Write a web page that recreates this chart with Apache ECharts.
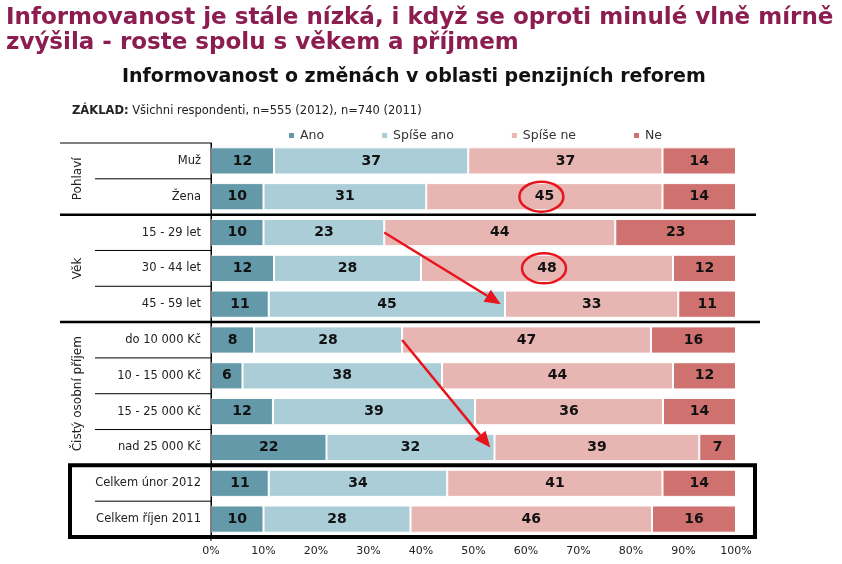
<!DOCTYPE html>
<html>
<head>
<meta charset="utf-8">
<script src="https://cdn.jsdelivr.net/npm/echarts@6/dist/echarts.min.js"></script>
<style>
html,body{margin:0;padding:0;background:#fff;}
#c{width:842px;height:564px;}
</style>
</head>
<body>
<div id="c"></div>
<script>
const categories = ['Muž','Žena','15 - 29 let','30 - 44 let','45 - 59 let','do 10 000 Kč','10 - 15 000 Kč','15 - 25 000 Kč','nad 25 000 Kč','Celkem únor 2012','Celkem říjen 2011'];
const seriesNames = ['Ano','Spíše ano','Spíše ne','Ne'];
const ano      = [12, 10, 10, 12, 11,  8.2,  6, 11.8, 22, 11, 10];
const spiseAno = [37, 31, 23, 28, 45, 28.2, 38, 38.5, 32, 34, 28];
const spiseNe  = [37, 45, 44, 48, 33, 47.4, 44, 35.8, 39, 41, 46];
const ne       = [14, 14, 23, 12, 11, 16.2, 12, 13.9,  7, 14, 16];
const groupNames = ['Pohlaví','Věk','Čistý osobní příjem'];
const groupFirst = [0, 2, 5];
const groupLast  = [1, 4, 8];

const colors = ['#6399a8','#abcdd7','#e7b5b2','#cf716f'];
const allValues = [ano, spiseAno, spiseNe, ne];

const chart = echarts.init(document.getElementById('c'), null, {renderer:'canvas'});
const font = 'DejaVu Sans';

chart.setOption({
  animation:false,
  backgroundColor:'#fff',
  title:[{
    text:'Informovanost je stále nízká, i když se oproti minulé vlně mírně\nzvýšila - roste spolu s věkem a příjmem',
    left:1, top:1,
    textStyle:{fontFamily:'DejaVu Sans', fontWeight:'bold', fontSize:23, lineHeight:25, color:'#8b1d50'}
  },{
    text:'Informovanost o změnách v oblasti penzijních reforem',
    left:117, top:63,
    textStyle:{fontFamily:'DejaVu Sans', fontWeight:'bold', fontSize:19, color:'#111'}
  },{
    text:'{b|ZÁKLAD:} Všichni respondenti, n=555 (2012), n=740 (2011)',
    left:67, top:100,
    textStyle:{fontFamily:'DejaVu Sans', fontWeight:'normal', fontSize:11.5, color:'#222',
      rich:{b:{fontFamily:'DejaVu Sans', fontWeight:'bold', fontSize:11.5, color:'#222'}}}
  }],
  legend:{
    data:seriesNames, left:282, top:124, itemWidth:7, itemHeight:7, itemGap:56, icon:'rect',
    textStyle:{fontFamily:font, fontSize:12.5, color:'#333'}
  },
  grid:{left:211, right:106, top:143, bottom:27, containLabel:false},
  xAxis:{
    type:'value', min:0, max:100, interval:10,
    axisLabel:{formatter:'{value}%', fontFamily:font, fontSize:11, color:'#222', margin:9},
    axisLine:{show:false}, axisTick:{show:false}, splitLine:{show:false}
  },
  yAxis:{
    type:'category', data:categories, inverse:true,
    axisLabel:{fontFamily:font, fontSize:11.5, color:'#222', margin:10},
    axisTick:{show:false}, axisLine:{show:true, lineStyle:{color:'#000', width:1}}
  },
  series: seriesNames.map((n,i)=>({
    name:n, type:'bar', stack:'all', data:allValues[i], barCategoryGap:'24%',
    itemStyle:{color:colors[i], borderColor:'#fff', borderWidth:1},
    label:{show:true, position:'inside', formatter:p=>Math.round(p.value),
      fontFamily:font, fontWeight:'bold', fontSize:14, color:'#111'}
  }))
});

function px(x, i){ return chart.convertToPixel({seriesIndex:0}, [x, categories[i]]); }
const c0 = px(0,0), c1 = px(0,1);
const band = c1[1]-c0[1];
const x0 = c0[0];
function boundAfter(i){ return px(0,i)[1] + band/2; }
const topY = c0[1]-band/2;
const botY = px(0, categories.length-1)[1] + band/2;

const g = [];
function line(x1,y1,x2,y2,w,col){ g.push({type:'line', z:50, shape:{x1,y1,x2,y2}, style:{stroke:col||'#000', lineWidth:w}}); }
line(60, topY, x0, topY, 1);
line(x0, topY, x0, botY+4, 1);
[0,2,3,5,6,7,9].forEach(i=>{ const y=boundAfter(i); line(95, y, x0, y, 1); });
line(60, boundAfter(1), 756, boundAfter(1), 2.5);
line(60, boundAfter(4), 760, boundAfter(4), 2.5);
g.push({type:'rect', z:50, shape:{x:70, y:boundAfter(8), width:685, height:botY-boundAfter(8)}, style:{fill:'none', stroke:'#000', lineWidth:4}});
groupNames.forEach((n,k)=>{
  const yc = (px(0,groupFirst[k])[1] + px(0,groupLast[k])[1])/2;
  g.push({type:'text', z:50, x:78, y:yc, rotation:Math.PI/2,
    style:{text:n, fontFamily:font, fontSize:12, fill:'#222', align:'center', verticalAlign:'middle'}});
});
function circleAt(row){
  const xc = ano[row]+spiseAno[row]+spiseNe[row]/2;
  const p = px(xc,row);
  g.push({type:'ellipse', z:60, shape:{cx:p[0]-3, cy:p[1], rx:22, ry:15}, style:{fill:'none', stroke:'#e8141c', lineWidth:2.5}});
}
circleAt(1); circleAt(3);
function arrow(r1, r2){
  const a = px(ano[r1]+spiseAno[r1], r1);
  const b = px(ano[r2]+spiseAno[r2]-0.8, r2);
  const dx=b[0]-a[0], dy=b[1]-a[1], L=Math.hypot(dx,dy), ux=dx/L, uy=dy/L;
  const hl=16, hw=7;
  const bx=b[0]-ux*hl, by=b[1]-uy*hl;
  line(a[0], a[1], bx, by, 2.5, '#e8141c');
  g.push({type:'polygon', z:60, shape:{points:[[b[0],b[1]],[bx-uy*hw, by+ux*hw],[bx+uy*hw, by-ux*hw]]}, style:{fill:'#e8141c'}});
}
arrow(2,4);
arrow(5,8);
chart.setOption({graphic:g});
</script>
</body>
</html>
